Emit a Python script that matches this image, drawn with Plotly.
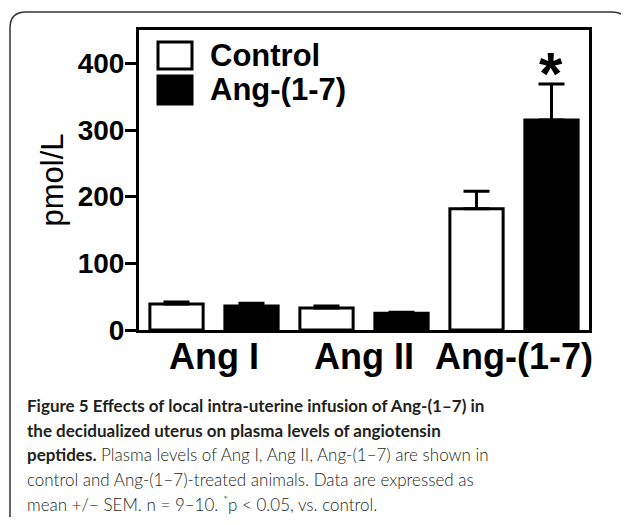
import plotly.graph_objects as go

# ---- data ----
categories = ["Ang I", "Ang II", "Ang-(1-7)"]
control_mean = [39, 33, 182]
control_sem = [3, 3, 26]
treated_mean = [36, 25, 315]
treated_sem = [4, 1.5, 54]
series_names = ["Control", "Ang-(1-7)"]
y_ticks = [0, 100, 200, 300, 400]
y_title = "pmol/L"
caption_lines = [
    ("Figure 5 Effects of local intra-uterine infusion of Ang-(1–7) in", ""),
    ("the decidualized uterus on plasma levels of angiotensin", ""),
    ("peptides.", " Plasma levels of Ang I, Ang II, Ang-(1–7) are shown in"),
    ("", "control and Ang-(1–7)-treated animals. Data are expressed as"),
    ("", "mean +/− SEM. n = 9–10. <sup>*</sup>p < 0.05, vs. control."),
]

OFF = 8                      # page body margin
W, H = 629 - 2 * OFF, 525 - 2 * OFF
# plot area in screen px
SL, SR, ST, SB = 139, 589, 30, 330
L, R, T, B = SL - OFF, SR - OFF, ST - OFF, SB - OFF


def px(x):
    return (x - SL) / (SR - SL)


def py(y):
    return (SB - y) / (SB - ST)


ARIAL = "Liberation Sans, Arial, sans-serif"
CAP = "Lato, Open Sans, sans-serif"

fig = go.Figure()
fig.add_bar(
    x=categories, y=control_mean, name=series_names[0],
    marker=dict(color="white", line=dict(color="black", width=3)),
    error_y=dict(type="data", array=control_sem, arrayminus=[0] * 3,
                 color="black", thickness=3, width=13),
    showlegend=False,
)
fig.add_bar(
    x=categories, y=treated_mean, name=series_names[1],
    marker=dict(color="black", line=dict(color="black", width=3)),
    error_y=dict(type="data", array=treated_sem, arrayminus=[0] * 3,
                 color="black", thickness=3, width=13),
    showlegend=False,
)

fig.update_layout(
    width=W, height=H,
    margin=dict(l=L, r=W - R, t=T, b=H - B, pad=0),
    paper_bgcolor="white", plot_bgcolor="white",
    barmode="group", bargap=0.0, bargroupgap=0.29,
    showlegend=False,
)
fig.update_xaxes(
    showline=True, linecolor="black", linewidth=3, mirror=True,
    ticks="", showgrid=False, zeroline=False,
    tickfont=dict(family=ARIAL, size=36, color="black", weight="bold"),
    range=[-0.5, 2.5], ticklabelstandoff=-7,
)
fig.update_yaxes(
    range=[0, 450], tickvals=y_ticks,
    showline=True, linecolor="black", linewidth=3, mirror=True,
    ticks="outside", ticklen=11, tickwidth=3, tickcolor="black",
    showgrid=False, zeroline=False,
    tickfont=dict(family=ARIAL, size=28, color="black", weight="bold"),
    ticklabelstandoff=-5,
    title=dict(text=y_title, standoff=5,
               font=dict(family=ARIAL, size=31, color="black")),
)

# significance star
fig.add_annotation(
    text="*", x=categories[2], y=treated_mean[2] + treated_sem[2],
    xshift=37, yshift=-25, yanchor="bottom", showarrow=False,
    font=dict(family=ARIAL, size=60, color="black", weight="bold"),
)

# legend (manual, large)
fig.add_shape(type="rect", xref="paper", yref="paper",
              x0=px(158), x1=px(192), y0=py(69), y1=py(42),
              fillcolor="white", line=dict(color="black", width=3))
fig.add_shape(type="rect", xref="paper", yref="paper",
              x0=px(158), x1=px(192), y0=py(104), y1=py(76),
              fillcolor="black", line=dict(color="black", width=3))
for name, yc in zip(series_names, [55, 90]):
    fig.add_annotation(
        text=name, xref="paper", yref="paper", x=px(208), y=py(yc),
        xanchor="left", yanchor="middle", showarrow=False,
        font=dict(family=ARIAL, size=31, color="black", weight="bold"),
    )

# outer rounded frame
r = 16
x0, y0, x1, y1 = 10, 12, 628, 545
path = (f"M {px(x0)},{py(y1)} L {px(x0)},{py(y0 + r)} "
        f"Q {px(x0)},{py(y0)} {px(x0 + r)},{py(y0)} "
        f"L {px(x1 - r)},{py(y0)} Q {px(x1)},{py(y0)} {px(x1)},{py(y0 + r)} "
        f"L {px(x1)},{py(y1)}")
fig.add_shape(type="path", xref="paper", yref="paper", path=path,
              line=dict(color="#333333", width=1.5))

# caption
line_y = [405, 430, 454, 479, 503]
for (bold, reg), yc in zip(caption_lines, line_y):
    txt = ""
    if bold:
        txt += f"<b>{bold}</b>"
    if reg:
        txt += f"<span style='font-weight:300'>{reg}</span>"
    fig.add_annotation(
        text=txt, xref="paper", yref="paper", x=px(25), y=py(yc),
        xanchor="left", yanchor="middle", showarrow=False,
        font=dict(family=CAP, size=17, color="#231f20"),
    )

fig.write_html("out.html")
